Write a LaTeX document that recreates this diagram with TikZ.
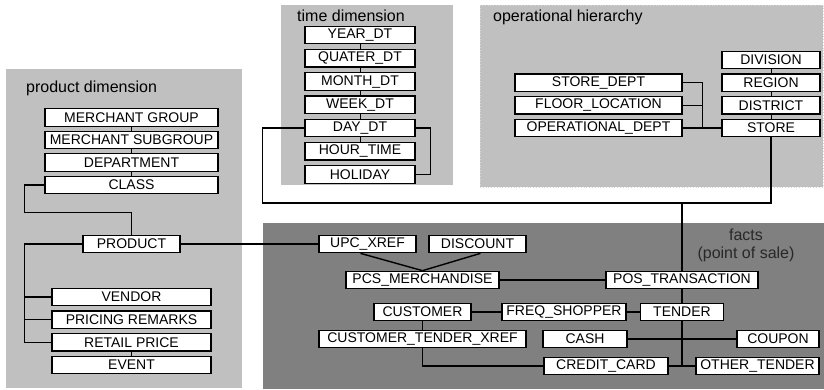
\documentclass[tikz,border=0pt]{standalone}
\usepackage{fontspec}
\setmainfont{Liberation Sans}
\usetikzlibrary{calc}
\definecolor{panel}{RGB}{192,192,192}
\definecolor{factpanel}{RGB}{128,128,128}
\definecolor{panelrule}{RGB}{215,215,215}
\definecolor{facttext}{RGB}{40,40,40}

\begin{document}
\begin{tikzpicture}[x=1pt,y=-1pt,
  tbl/.style={draw=black, fill=white, line width=1.2pt, inner sep=0pt,
    minimum height=17.5pt, font=\fontsize{14}{15}\selectfont},
  link/.style={line width=1.4pt},
  chain/.style={line width=0.9pt},
  title/.style={font=\fontsize{16}{18}\selectfont, inner sep=0pt}
]
\useasboundingbox (0,0) rectangle (824,389);

% background panels
\fill[panel] (6,69) rectangle (242,388);
\fill[panel] (281,5) rectangle (453,185);
\fill[panel] (480,5) rectangle (823,187);
\draw[panelrule, dotted, line width=0.8pt] (480,5) rectangle (823,187);
\fill[factpanel] (263,223) rectangle (824,389);

% panel titles
\node[title, anchor=base west] (ptitle) at (26,92) {product dimension};
\node[title, anchor=base west] (ttitle) at (297,21.5) {time dimension};
\node[title, anchor=base west] (otitle) at (493,21) {operational hierarchy};
\node[title, anchor=base, text=facttext] (ftitle) at (746,240) {facts};
\node[title, anchor=base, text=facttext] (fsub) at (746,258) {(point of sale)};

% product dimension
\node[tbl, minimum width=173pt] (mgroup) at (131.5,117.5) {MERCHANT GROUP};
\node[tbl, minimum width=173pt] (msub) at (131.5,140) {MERCHANT SUBGROUP};
\node[tbl, minimum width=173pt] (dept) at (131.5,162.5) {DEPARTMENT};
\node[tbl, minimum width=173pt] (class) at (131.5,185) {CLASS};
\node[tbl, minimum width=97pt] (product) at (131.5,244) {PRODUCT};
\node[tbl, minimum width=159pt] (vendor) at (131.5,297) {VENDOR};
\node[tbl, minimum width=159pt] (pricing) at (131.5,319.7) {PRICING REMARKS};
\node[tbl, minimum width=159pt] (retail) at (131.5,342.3) {RETAIL PRICE};
\node[tbl, minimum width=159pt] (event) at (131.5,365) {EVENT};

% time dimension
\node[tbl, minimum width=110pt] (year) at (360,35) {YEAR\_DT};
\node[tbl, minimum width=110pt] (quater) at (360,58.25) {QUATER\_DT};
\node[tbl, minimum width=110pt] (month) at (360,81.5) {MONTH\_DT};
\node[tbl, minimum width=110pt] (week) at (360,104.75) {WEEK\_DT};
\node[tbl, minimum width=110pt] (day) at (360,128) {DAY\_DT};
\node[tbl, minimum width=110pt] (hour) at (360,151.25) {HOUR\_TIME};
\node[tbl, minimum width=110pt] (holiday) at (360,174.5) {HOLIDAY};

% operational hierarchy
\node[tbl, minimum width=167pt] (sdept) at (598.5,82.7) {STORE\_DEPT};
\node[tbl, minimum width=167pt] (floor) at (598.5,105.3) {FLOOR\_LOCATION};
\node[tbl, minimum width=167pt] (oper) at (598.5,128) {OPERATIONAL\_DEPT};
\node[tbl, minimum width=98pt] (division) at (771,60) {DIVISION};
\node[tbl, minimum width=98pt] (region) at (771,82.7) {REGION};
\node[tbl, minimum width=98pt] (district) at (771,105.3) {DISTRICT};
\node[tbl, minimum width=98pt] (store) at (771,128) {STORE};

% facts
\node[tbl, minimum width=97pt] (upc) at (367.5,244) {UPC\_XREF};
\node[tbl, minimum width=97pt] (disc) at (477.5,244) {DISCOUNT};
\node[tbl, minimum width=153pt] (pcs) at (422.5,280) {PCS\_MERCHANDISE};
\node[tbl, minimum width=152pt] (pos) at (682,280) {POS\_TRANSACTION};
\node[tbl, minimum width=97pt] (cust) at (422.5,312) {CUSTOMER};
\node[tbl, minimum width=124pt] (freq) at (564,312) {FREQ\_SHOPPER};
\node[tbl, minimum width=83pt] (tender) at (682,312) {TENDER};
\node[tbl, minimum width=207pt] (ctx) at (422.5,339) {CUSTOMER\_TENDER\_XREF};
\node[tbl, minimum width=84pt] (cash) at (585,339) {CASH};
\node[tbl, minimum width=82pt] (coupon) at (778,339) {COUPON};
\node[tbl, minimum width=124pt] (credit) at (606,366) {CREDIT\_CARD};
\node[tbl, minimum width=123pt] (other) at (757.5,366) {OTHER\_TENDER};

% product hierarchy links
\draw[chain] (mgroup) -- (msub);
\draw[chain] (msub) -- (dept);
\draw[chain] (dept) -- (class);
\draw[link] (class.west) -- ++(-20,0) |- ($(product.north)+(0,-22)$) -- (product.north);
\draw[link] (product.west) -- ++(-58,0) |- (retail.west);
\draw[link] (vendor.west) -- ++(-27,0);
\draw[link] (pricing.west) -- ++(-27,0);
\draw[chain] (retail) -- (event);
\draw[link] (product.east) -- (upc.west);

% time links
\draw[chain] (year) -- (quater);
\draw[chain] (quater) -- (month);
\draw[chain] (month) -- (week);
\draw[chain] (week) -- (day);
\draw[chain] (day) -- (hour);
\draw[link] (day.east) -- ++(15,0) |- (holiday.east);

% operational links
\draw[chain] (division) -- (region);
\draw[chain] (region) -- (district);
\draw[chain] (district) -- (store);
\draw[link] (sdept.east) -- ++(20,0) |- (store.west);
\draw[link] (floor.east) -- ++(20,0);
\draw[link] (oper.east) -- (store.west);

% dimensions to the fact table
\coordinate (bus) at (682,203);
\draw[link] (day.west) -- ++(-42,0) |- (bus) -| (store.south);
\draw[link] (bus) -- (pos.north);

% fact links
\draw[link] ($(upc.south)+(-7,0)$) -- (pcs.north);
\draw[link] ($(disc.south)+(3,0)$) -- (pcs.north);
\draw[link] (pcs) -- (pos);
\draw[link] (pos) -- (tender);
\draw[link] (tender.south) -- (tender.south |- credit.east);
\draw[link] (credit.east) -- (other.west);
\draw[link] (cash.east) -- (coupon.west);
\draw[link] (cust) -- (freq);
\draw[link] (freq) -- (tender);
\draw[link] (cust) -- (ctx);
\draw[link] (ctx.south) |- (credit.west);
\end{tikzpicture}
\end{document}
